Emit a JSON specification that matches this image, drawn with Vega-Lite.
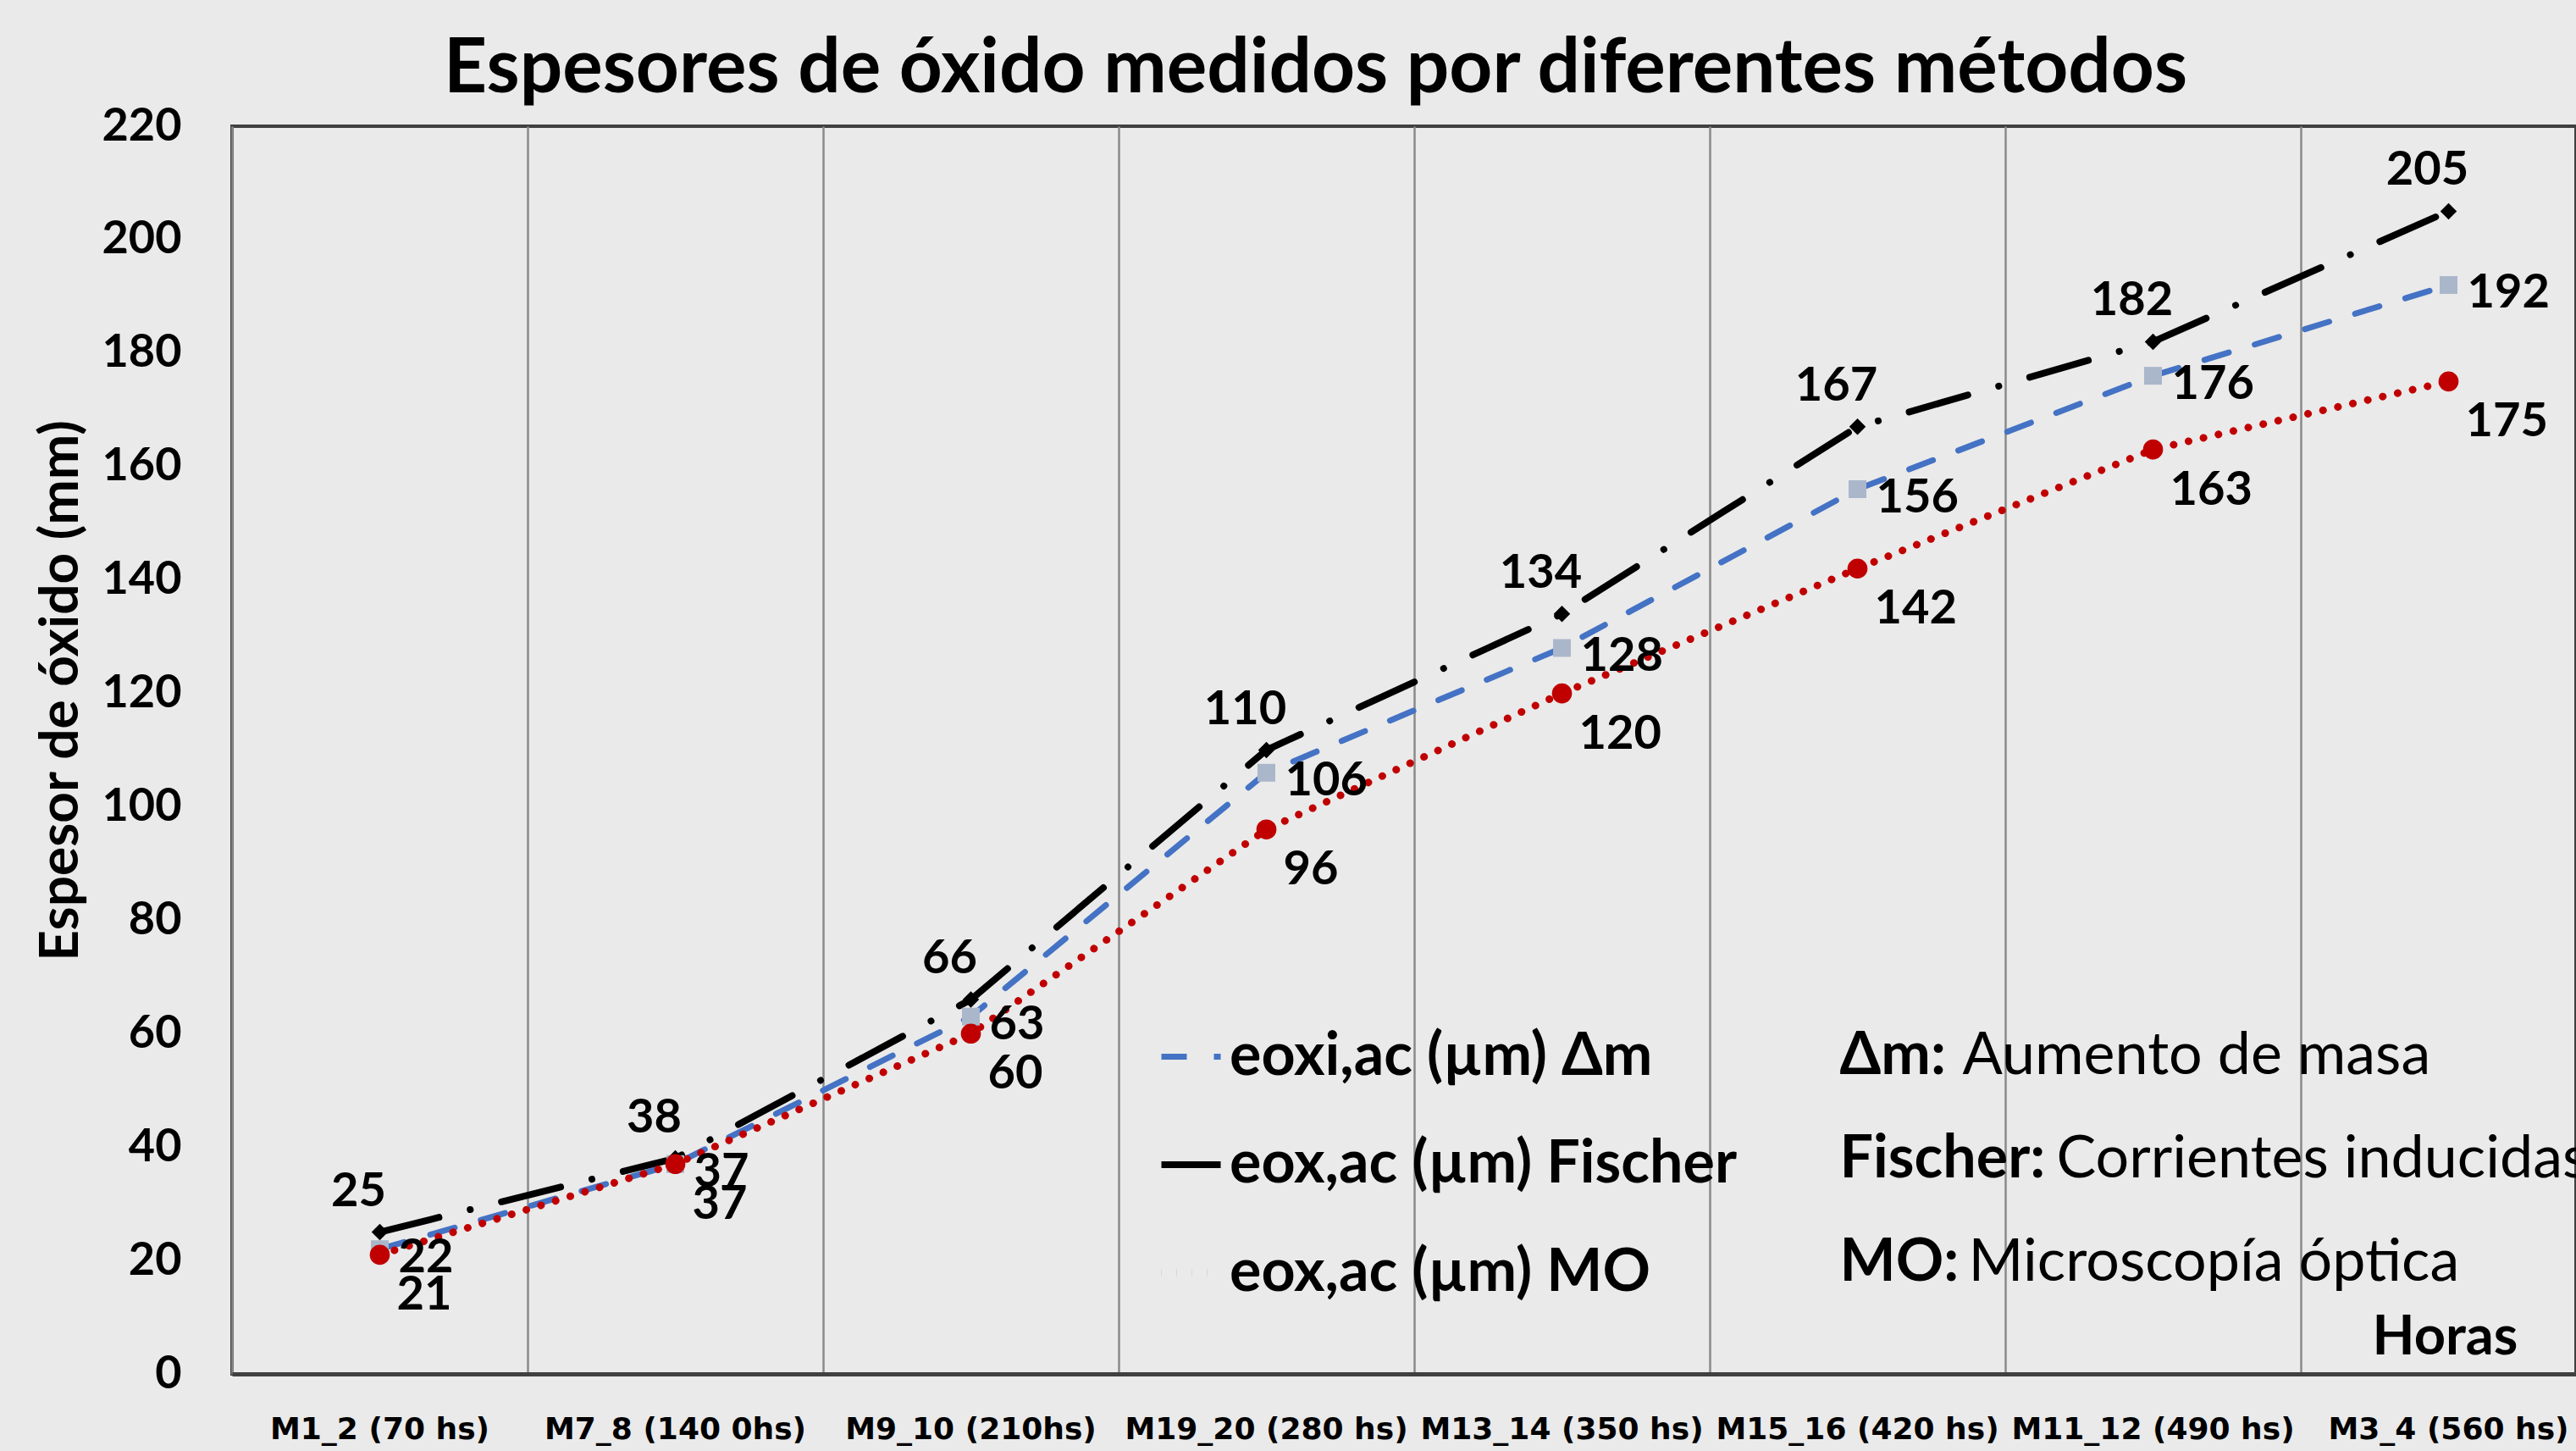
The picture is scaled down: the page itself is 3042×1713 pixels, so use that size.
{
  "$schema": "https://vega.github.io/schema/vega-lite/v6.json",
  "width": 2768,
  "height": 1473,
  "autosize": {"type": "none"},
  "padding": {"left": 274, "top": 149, "right": 0, "bottom": 91},
  "background": "#eaeaea",
  "config": {"view": {"stroke": "#404040", "strokeWidth": 4}, "font": "Lato"},
  "title": {"text": "Espesores de óxido medidos por diferentes métodos", "font": "Lato", "fontSize": 89, "fontWeight": "bold", "color": "#000000", "anchor": "start", "frame": "group", "dx": 250, "offset": -6},
  "data": {"values": [
    {"muestra": "M1_2 (70 hs)", "serie": "eoxi,ac (µm) Δm", "valor": 22},
    {"muestra": "M7_8 (140 0hs)", "serie": "eoxi,ac (µm) Δm", "valor": 37},
    {"muestra": "M9_10 (210hs)", "serie": "eoxi,ac (µm) Δm", "valor": 63},
    {"muestra": "M19_20 (280 hs)", "serie": "eoxi,ac (µm) Δm", "valor": 106},
    {"muestra": "M13_14 (350 hs)", "serie": "eoxi,ac (µm) Δm", "valor": 128},
    {"muestra": "M15_16 (420 hs)", "serie": "eoxi,ac (µm) Δm", "valor": 156},
    {"muestra": "M11_12 (490 hs)", "serie": "eoxi,ac (µm) Δm", "valor": 176},
    {"muestra": "M3_4 (560 hs)", "serie": "eoxi,ac (µm) Δm", "valor": 192},
    {"muestra": "M1_2 (70 hs)", "serie": "eox,ac (µm) Fischer", "valor": 25},
    {"muestra": "M7_8 (140 0hs)", "serie": "eox,ac (µm) Fischer", "valor": 38},
    {"muestra": "M9_10 (210hs)", "serie": "eox,ac (µm) Fischer", "valor": 66},
    {"muestra": "M19_20 (280 hs)", "serie": "eox,ac (µm) Fischer", "valor": 110},
    {"muestra": "M13_14 (350 hs)", "serie": "eox,ac (µm) Fischer", "valor": 134},
    {"muestra": "M15_16 (420 hs)", "serie": "eox,ac (µm) Fischer", "valor": 167},
    {"muestra": "M11_12 (490 hs)", "serie": "eox,ac (µm) Fischer", "valor": 182},
    {"muestra": "M3_4 (560 hs)", "serie": "eox,ac (µm) Fischer", "valor": 205},
    {"muestra": "M1_2 (70 hs)", "serie": "eox,ac (µm) MO", "valor": 21},
    {"muestra": "M7_8 (140 0hs)", "serie": "eox,ac (µm) MO", "valor": 37},
    {"muestra": "M9_10 (210hs)", "serie": "eox,ac (µm) MO", "valor": 60},
    {"muestra": "M19_20 (280 hs)", "serie": "eox,ac (µm) MO", "valor": 96},
    {"muestra": "M13_14 (350 hs)", "serie": "eox,ac (µm) MO", "valor": 120},
    {"muestra": "M15_16 (420 hs)", "serie": "eox,ac (µm) MO", "valor": 142},
    {"muestra": "M11_12 (490 hs)", "serie": "eox,ac (µm) MO", "valor": 163},
    {"muestra": "M3_4 (560 hs)", "serie": "eox,ac (µm) MO", "valor": 175}
  ]},
  "resolve": {"axis": {"x": "independent", "y": "independent"}},
  "layer": [
    {
      "mark": {"type": "line", "strokeCap": "round"},
      "encoding": {
        "x": {"field": "muestra", "type": "nominal", "sort": ["M1_2 (70 hs)", "M7_8 (140 0hs)", "M9_10 (210hs)", "M19_20 (280 hs)", "M13_14 (350 hs)", "M15_16 (420 hs)", "M11_12 (490 hs)", "M3_4 (560 hs)"],
          "scale": {"type": "band", "range": [0, 2792], "paddingInner": 0, "paddingOuter": 0},
          "axis": {"orient": "bottom", "title": "Horas", "titleFont": "Lato", "titleFontSize": 65, "titleFontWeight": "bold", "titleColor": "#000000", "titleX": 2613, "titleY": -24, "titleAlign": "center", "titleBaseline": "alphabetic",
            "labelFont": "DejaVu Sans", "labelFontWeight": "bold", "labelFontSize": 36, "labelColor": "#000000", "labelAngle": 0, "labelPadding": 48, "labelOverlap": false, "labelBound": false, "labelLimit": 600,
            "ticks": false, "tickSize": 0, "domain": true, "domainColor": "#404040", "domainWidth": 5, "grid": false}},
        "y": {"field": "valor", "type": "quantitative", "scale": {"domain": [0, 220], "nice": false},
          "axis": {"orient": "left", "title": "Espesor de óxido (mm)", "titleFont": "Lato", "titleFontSize": 64, "titleFontWeight": "bold", "titleColor": "#000000", "titleX": -202, "titleY": 666, "titleAngle": -90, "titleAlign": "center", "titleBaseline": "middle",
            "values": [0, 20, 40, 60, 80, 100, 120, 140, 160, 180, 200, 220], "labelFont": "Lato", "labelFontWeight": "bold", "labelFontSize": 54, "labelColor": "#000000", "labelPadding": 60, "ticks": false, "tickSize": 0, "domain": false, "grid": false, "labelOverlap": false}},
        "color": {"field": "serie", "type": "nominal", "scale": {"domain": ["eoxi,ac (µm) Δm", "eox,ac (µm) Fischer", "eox,ac (µm) MO"], "range": ["#4472C4", "#000000", "#C00000"]},
          "legend": {"title": null, "orient": "none", "legendX": 1093, "legendY": 1060, "direction": "vertical", "labelFont": "Lato", "labelFontWeight": "bold", "labelFontSize": 70, "labelColor": "#000000", "labelLimit": 1500, "symbolType": "stroke", "symbolSize": 4900, "symbolStrokeWidth": 8, "rowPadding": 53, "labelOffset": 6}},
        "strokeDash": {"field": "serie", "type": "nominal", "scale": {"domain": ["eoxi,ac (µm) Δm", "eox,ac (µm) Fischer", "eox,ac (µm) MO"], "range": [[30, 32], [72, 38, 0.1, 38], [0.1, 18]]}},
        "strokeWidth": {"field": "serie", "type": "ordinal", "scale": {"domain": ["eoxi,ac (µm) Δm", "eox,ac (µm) Fischer", "eox,ac (µm) MO"], "range": [7, 9, 8]}, "legend": null}
      }
    },
    {
      "transform": [{"filter": {"field": "serie", "equal": "eoxi,ac (µm) Δm"}}],
      "mark": {"type": "point", "shape": "square", "filled": true, "color": "#AAB7CB", "size": 440, "opacity": 1, "strokeWidth": 0},
      "encoding": {
        "x": {"field": "muestra", "type": "nominal", "sort": ["M1_2 (70 hs)", "M7_8 (140 0hs)", "M9_10 (210hs)", "M19_20 (280 hs)", "M13_14 (350 hs)", "M15_16 (420 hs)", "M11_12 (490 hs)", "M3_4 (560 hs)"],
          "axis": {"orient": "top", "title": null, "labels": false, "ticks": false, "domain": false, "grid": true, "gridColor": "#8a8a8a", "gridWidth": 2.5, "bandPosition": 0}},
        "y": {"field": "valor", "type": "quantitative", "axis": null}
      }
    },
    {
      "transform": [{"filter": {"field": "serie", "equal": "eox,ac (µm) Fischer"}}],
      "mark": {"type": "point", "shape": "diamond", "filled": true, "color": "#000000", "size": 380, "opacity": 1, "strokeWidth": 0},
      "encoding": {
        "x": {"field": "muestra", "type": "nominal", "sort": ["M1_2 (70 hs)", "M7_8 (140 0hs)", "M9_10 (210hs)", "M19_20 (280 hs)", "M13_14 (350 hs)", "M15_16 (420 hs)", "M11_12 (490 hs)", "M3_4 (560 hs)"], "axis": null},
        "y": {"field": "valor", "type": "quantitative", "axis": null}
      }
    },
    {
      "transform": [{"filter": {"field": "serie", "equal": "eox,ac (µm) MO"}}],
      "mark": {"type": "point", "shape": "circle", "filled": true, "color": "#C00000", "size": 560, "opacity": 1, "strokeWidth": 0},
      "encoding": {
        "x": {"field": "muestra", "type": "nominal", "sort": ["M1_2 (70 hs)", "M7_8 (140 0hs)", "M9_10 (210hs)", "M19_20 (280 hs)", "M13_14 (350 hs)", "M15_16 (420 hs)", "M11_12 (490 hs)", "M3_4 (560 hs)"], "axis": null},
        "y": {"field": "valor", "type": "quantitative", "axis": null}
      }
    },
    {
      "transform": [{"filter": {"field": "serie", "equal": "eox,ac (µm) Fischer"}}],
      "mark": {"type": "text", "font": "Lato", "fontWeight": "bold", "fontSize": 56, "color": "#000000", "align": "center", "baseline": "middle", "dx": -25, "dy": -48},
      "encoding": {
        "x": {"field": "muestra", "type": "nominal", "sort": ["M1_2 (70 hs)", "M7_8 (140 0hs)", "M9_10 (210hs)", "M19_20 (280 hs)", "M13_14 (350 hs)", "M15_16 (420 hs)", "M11_12 (490 hs)", "M3_4 (560 hs)"], "axis": null},
        "y": {"field": "valor", "type": "quantitative", "axis": null},
        "text": {"field": "valor", "type": "quantitative"}
      }
    },
    {
      "transform": [{"filter": {"field": "serie", "equal": "eoxi,ac (µm) Δm"}}],
      "mark": {"type": "text", "font": "Lato", "fontWeight": "bold", "fontSize": 56, "color": "#000000", "align": "left", "baseline": "middle", "dx": 22, "dy": 10},
      "encoding": {
        "x": {"field": "muestra", "type": "nominal", "sort": ["M1_2 (70 hs)", "M7_8 (140 0hs)", "M9_10 (210hs)", "M19_20 (280 hs)", "M13_14 (350 hs)", "M15_16 (420 hs)", "M11_12 (490 hs)", "M3_4 (560 hs)"], "axis": null},
        "y": {"field": "valor", "type": "quantitative", "axis": null},
        "text": {"field": "valor", "type": "quantitative"}
      }
    },
    {
      "transform": [{"filter": {"field": "serie", "equal": "eox,ac (µm) MO"}}],
      "mark": {"type": "text", "font": "Lato", "fontWeight": "bold", "fontSize": 56, "color": "#000000", "align": "left", "baseline": "middle", "dx": 20, "dy": 48},
      "encoding": {
        "x": {"field": "muestra", "type": "nominal", "sort": ["M1_2 (70 hs)", "M7_8 (140 0hs)", "M9_10 (210hs)", "M19_20 (280 hs)", "M13_14 (350 hs)", "M15_16 (420 hs)", "M11_12 (490 hs)", "M3_4 (560 hs)"], "axis": null},
        "y": {"field": "valor", "type": "quantitative", "axis": null},
        "text": {"field": "valor", "type": "quantitative"}
      }
    },
    {
      "data": {"values": [{"texto": "Δm:"}]},
      "mark": {"type": "text", "font": "Lato", "fontWeight": "bold", "fontSize": 70, "color": "#000000", "align": "left", "baseline": "alphabetic", "dx": -21},
      "encoding": {"x": {"datum": "M15_16 (420 hs)", "axis": null}, "y": {"datum": 52.9, "axis": null}, "text": {"field": "texto", "type": "nominal"}}
    },
    {
      "data": {"values": [{"texto": "Aumento de masa"}]},
      "mark": {"type": "text", "font": "Lato", "fontWeight": "normal", "fontSize": 70, "color": "#000000", "align": "left", "baseline": "alphabetic", "dx": 124},
      "encoding": {"x": {"datum": "M15_16 (420 hs)", "axis": null}, "y": {"datum": 52.9, "axis": null}, "text": {"field": "texto", "type": "nominal"}}
    },
    {
      "data": {"values": [{"texto": "Fischer:"}]},
      "mark": {"type": "text", "font": "Lato", "fontWeight": "bold", "fontSize": 70, "color": "#000000", "align": "left", "baseline": "alphabetic", "dx": -21},
      "encoding": {"x": {"datum": "M15_16 (420 hs)", "axis": null}, "y": {"datum": 34.7, "axis": null}, "text": {"field": "texto", "type": "nominal"}}
    },
    {
      "data": {"values": [{"texto": "Corrientes inducidas"}]},
      "mark": {"type": "text", "font": "Lato", "fontWeight": "normal", "fontSize": 70, "color": "#000000", "align": "left", "baseline": "alphabetic", "dx": 235},
      "encoding": {"x": {"datum": "M15_16 (420 hs)", "axis": null}, "y": {"datum": 34.7, "axis": null}, "text": {"field": "texto", "type": "nominal"}}
    },
    {
      "data": {"values": [{"texto": "MO:"}]},
      "mark": {"type": "text", "font": "Lato", "fontWeight": "bold", "fontSize": 70, "color": "#000000", "align": "left", "baseline": "alphabetic", "dx": -21},
      "encoding": {"x": {"datum": "M15_16 (420 hs)", "axis": null}, "y": {"datum": 16.4, "axis": null}, "text": {"field": "texto", "type": "nominal"}}
    },
    {
      "data": {"values": [{"texto": "Microscopía óptica"}]},
      "mark": {"type": "text", "font": "Lato", "fontWeight": "normal", "fontSize": 70, "color": "#000000", "align": "left", "baseline": "alphabetic", "dx": 131},
      "encoding": {"x": {"datum": "M15_16 (420 hs)", "axis": null}, "y": {"datum": 16.4, "axis": null}, "text": {"field": "texto", "type": "nominal"}}
    }
  ]
}
